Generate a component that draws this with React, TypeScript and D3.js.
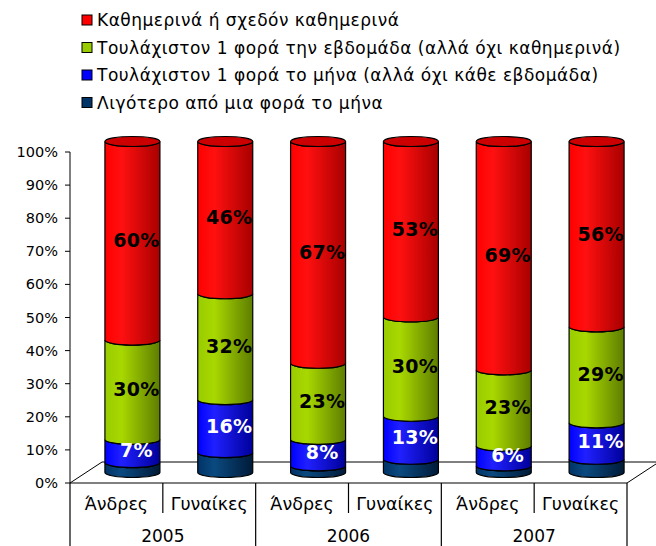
import React from "react";
import * as d3 from "d3";

const categories = ["Άνδρες", "Γυναίκες", "Άνδρες", "Γυναίκες", "Άνδρες", "Γυναίκες"];
const years = ["2005", "2006", "2007"];
const seriesNames = [
  "Λιγότερο από μια φορά το μήνα",
  "Τουλάχιστον 1 φορά το μήνα (αλλά όχι κάθε εβδομάδα)",
  "Τουλάχιστον 1 φορά την εβδομάδα (αλλά όχι καθημερινά)",
  "Καθημερινά ή σχεδόν καθημερινά",
];
const lessMonthly = [3, 6, 2, 4, 2, 4];
const monthly = [7, 16, 8, 13, 6, 11];
const weekly = [30, 32, 23, 30, 23, 29];
const daily = [60, 46, 67, 53, 69, 56];
const yTicks = [0, 10, 20, 30, 40, 50, 60, 70, 80, 90, 100];

const seriesValues = [lessMonthly, monthly, weekly, daily];
const colors = [
  { base: "#003366", light: "#0a4a80", dark: "#001a38", top: "#002a55" },
  { base: "#0000ff", light: "#2020ff", dark: "#00009a", top: "#0000cc" },
  { base: "#99cc00", light: "#a8d800", dark: "#5e7d00", top: "#7fa800" },
  { base: "#ff0000", light: "#ff1010", dark: "#a80000", top: "#cc0000" },
];
const labelColors = [null, "#ffffff", "#000000", "#000000"];
const legendOrder = [3, 2, 1, 0];

const W = 656;
const H = 546;
const x0 = 70;
const x1 = 627;
const yBottom = 483;
const yTop = 152;
const depthX = 32;
const depthY = -21;

export default function App() {
  const x = d3.scaleBand<number>().domain(d3.range(categories.length)).range([x0, x1]).paddingInner(0);
  const y = d3.scaleLinear().domain([0, 100]).range([yBottom, yTop]);
  const cy = (v: number) => y(v) + depthY / 2;
  const rx = 27.5;
  const ry = 5;
  const font = "'DejaVu Sans', Verdana, sans-serif";

  const stacks = d3.stack<number>().keys(d3.range(seriesValues.length) as any).value((d: number, k: any) => seriesValues[k][d])(d3.range(categories.length) as any);

  const segPath = (cx: number, yb: number, yt: number) =>
    `M${cx - rx},${yt} A${rx},${ry} 0 0 0 ${cx + rx},${yt} L${cx + rx},${yb} A${rx},${ry} 0 0 1 ${cx - rx},${yb} Z`;

  return (
    <div style={{ position: "fixed", left: 0, top: 0 }}>
      <svg width={W} height={H} style={{ display: "block", background: "#fff" }}>
        <defs>
          {colors.map((c, i) => (
            <linearGradient key={i} id={`g${i}`} x1="0" x2="1" y1="0" y2="0">
              <stop offset="0" stopColor={c.base} />
              <stop offset="0.3" stopColor={c.light} />
              <stop offset="1" stopColor={c.dark} />
            </linearGradient>
          ))}
        </defs>

        {/* Legend */}
        {legendOrder.map((s, i) => (
          <g key={s} transform={`translate(82,${20 + i * 27.5})`}>
            <rect x={0} y={-5} width={10} height={10} fill={colors[s].base} stroke="#000" strokeWidth={1} />
            <text x={15} y={6} fontFamily={font} fontSize={17} letterSpacing={0.5} fill="#000">
              {seriesNames[s]}
            </text>
          </g>
        ))}

        {/* Floor */}
        <path
          d={`M${x0},${yBottom} L${x0 + depthX},${yBottom + depthY} L${x1 + depthX},${yBottom + depthY} L${x1},${yBottom}`}
          fill="none"
          stroke="#000"
          strokeWidth={1}
        />

        {/* Y axis */}
        <line x1={x0} x2={x0} y1={y(100)} y2={y(0)} stroke="#000" />
        {yTicks.map((t) => (
          <g key={t}>
            <line x1={x0 - 5} x2={x0} y1={y(t)} y2={y(t)} stroke="#000" />
            <text x={58} y={y(t) + 5} textAnchor="end" fontFamily={font} fontSize={14.5} fill="#000">
              {t}%
            </text>
          </g>
        ))}

        {/* Cylinders */}
        {d3.range(categories.length).map((ci) => {
          const cx = (x(ci) as number) + x.bandwidth() / 2 + depthX / 2;
          return (
            <g key={ci}>
              {stacks.map((layer, si) => {
                const [a, b] = layer[ci];
                return (
                  <path
                    key={si}
                    d={segPath(cx, cy(a), cy(b))}
                    fill={`url(#g${si})`}
                    stroke="#000"
                    strokeWidth={1.2}
                  />
                );
              })}
              <ellipse
                cx={cx}
                cy={cy(100)}
                rx={rx}
                ry={ry}
                fill={colors[3].top}
                stroke="#000"
                strokeWidth={1.2}
              />
              {stacks.map((layer, si) => {
                const col = labelColors[si];
                if (!col) return null;
                const [a, b] = layer[ci];
                return (
                  <text
                    key={`l${si}`}
                    x={cx + 4}
                    y={cy((a + b) / 2) + 6.5}
                    textAnchor="middle"
                    fontFamily={font}
                    fontWeight="bold"
                    fontSize={19}
                    letterSpacing={0.3}
                    fill={col}
                  >
                    {seriesValues[si][ci]}%
                  </text>
                );
              })}
            </g>
          );
        })}

        {/* Category axis */}
        <line x1={x0} x2={x1} y1={yBottom} y2={yBottom} stroke="#000" />
        {d3.range(categories.length + 1).map((i) => {
          const xx = i < categories.length ? (x(i) as number) : x1;
          const full = i % 2 === 0;
          return <line key={i} x1={xx} x2={xx} y1={yBottom} y2={full ? H : 513} stroke="#000" strokeWidth={1.2} />;
        })}
        {categories.map((c, i) => (
          <text
            key={i}
            x={(x(i) as number) + x.bandwidth() / 2}
            y={510}
            textAnchor="middle"
            fontFamily={font}
            fontSize={17.5}
            fill="#000"
          >
            {c}
          </text>
        ))}
        {years.map((yr, i) => (
          <text
            key={yr}
            x={(x(i * 2) as number) + x.bandwidth()}
            y={542}
            textAnchor="middle"
            fontFamily={font}
            fontSize={17}
            fill="#000"
          >
            {yr}
          </text>
        ))}
      </svg>
    </div>
  );
}
